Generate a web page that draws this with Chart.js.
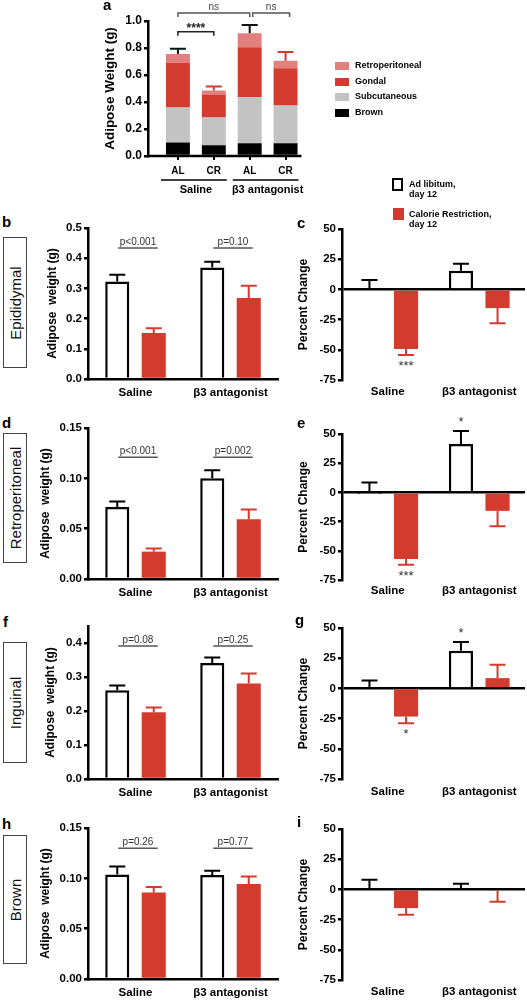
<!DOCTYPE html>
<html>
<head>
<meta charset="utf-8">
<script src="https://cdn.jsdelivr.net/npm/chart.js@4.4.1/dist/chart.umd.min.js"></script>
<style>
  body { margin: 0; background: #fff; }
  #fig { position: relative; width: 527px; height: 1000px; overflow: hidden; font-family: "Liberation Sans", Arial, sans-serif; color: #000; }
  #fig canvas { position: absolute; }
  .letter { position: absolute; font-size: 15px; line-height: 15px; font-weight: bold; }
  .rowbox { position: absolute; left: 3px; width: 24px; border: 1px solid #444; box-sizing: border-box; }
  .rowbox span { position: absolute; left: 50%; top: 50%; transform: translate(-50%, -50%) rotate(-90deg); white-space: nowrap; font-size: 15px; color: #111; }
  .key { position: absolute; font-size: 9px; font-weight: bold; line-height: 9.5px; white-space: nowrap; }
  .sw { position: absolute; box-sizing: border-box; }
</style>
</head>
<body>
<div id="fig"></div>
<script>
const RED = '#d23b2d', PINK = '#e28080', GREY = '#c3c3c3';
const FONT = '"Liberation Sans", Arial, sans-serif';
Chart.defaults.font.family = FONT;
Chart.defaults.color = '#000';

// panel a (stacked totals)
const stackCats = ['AL', 'CR', 'AL', 'CR'];
const groups = ['Saline', 'β3 antagonist'];
const brownA = [0.10, 0.08, 0.095, 0.095];
const subcutaneousA = [0.26, 0.205, 0.34, 0.28];
const gondalA = [0.33, 0.17, 0.37, 0.275];
const retroA = [0.065, 0.03, 0.105, 0.055];
const totalErrA = [0.795, 0.515, 0.97, 0.77];
const bracketFrom = [0, 0, 2];
const bracketTo = [1, 2, 3];
const bracketAt = [0.92, 1.06, 1.06];
const bracketText = ['****', 'ns', 'ns'];

// b-i, values in order [Saline, β3 antagonist]
const epiAL = [0.323, 0.369], epiALerr = [0.345, 0.388];
const epiCR = [0.152, 0.268], epiCRerr = [0.168, 0.309];
const epiP = ['p<0.001', 'p=0.10'];
const epiPct = [0, 15.4], epiPctErr = [7.7, 21.2];
const epiCRPct = [-49.3, -15.5], epiCRPctErr = [-54.3, -28];

const retAL = [0.0714, 0.100], retALerr = [0.077, 0.108];
const retCR = [0.0272, 0.0594], retCRerr = [0.0302, 0.069];
const retP = ['p<0.001', 'p=0.002'];
const retPct = [-0.6, 41.4], retPctErr = [8.5, 52.6];
const retCRPct = [-57, -15.8], retCRPctErr = [-61.9, -29];

const ingAL = [0.261, 0.341], ingALerr = [0.275, 0.357];
const ingCR = [0.196, 0.281], ingCRerr = [0.210, 0.310];
const ingP = ['p=0.08', 'p=0.25'];
const ingPct = [0, 31.2], ingPctErr = [6.6, 38.4];
const ingCRPct = [-23.3, 8.5], ingCRPctErr = [-28.8, 19.6];

const brnAL = [0.1039, 0.1032], brnALerr = [0.1118, 0.1075];
const brnCR = [0.086, 0.0943], brnCRerr = [0.0913, 0.1019];
const brnP = ['p=0.26', 'p=0.77'];
const brnPct = [0, 1], brnPctErr = [8, 4.6];
const brnCRPct = [-15.5, -1.2], brnCRPctErr = [-21, -10.3];

const fig = document.getElementById('fig');

// error bars (+ significance stars) from each dataset's errTo values
const errorBars = {
  id: 'errorBars',
  afterDatasetsDraw(chart) {
    const ctx = chart.ctx;
    const y = chart.scales.y;
    chart.data.datasets.forEach((ds, i) => {
      if (!ds.errTo) return;
      chart.getDatasetMeta(i).data.forEach((bar, j) => {
        const end = y.getPixelForValue(ds.errTo[j]);
        ctx.save();
        ctx.strokeStyle = Array.isArray(ds.errColor) ? ds.errColor[j] : ds.errColor;
        ctx.lineWidth = 2;
        ctx.beginPath();
        ctx.moveTo(bar.x, bar.y);
        ctx.lineTo(bar.x, end);
        ctx.moveTo(bar.x - 8, end);
        ctx.lineTo(bar.x + 8, end);
        ctx.stroke();
        const star = ds.stars && ds.stars[j];
        if (star) {
          const up = ds.errTo[j] >= ds.data[j];
          ctx.fillStyle = '#333';
          ctx.font = '13px ' + FONT;
          ctx.textAlign = 'center';
          ctx.textBaseline = up ? 'alphabetic' : 'top';
          ctx.fillText(star, bar.x, up ? end - 5 : end + 5);
        }
        ctx.restore();
      });
    });
  }
};

// p-value lines over each group
const pLines = {
  id: 'pLines',
  afterDatasetsDraw(chart, args, opts) {
    if (!opts.text) return;
    const ctx = chart.ctx;
    const yy = chart.scales.y.getPixelForValue(opts.at);
    const al = chart.getDatasetMeta(0).data, cr = chart.getDatasetMeta(1).data;
    opts.text.forEach((t, j) => {
      const x1 = al[j].x + 1, x2 = cr[j].x + 4;
      ctx.save();
      ctx.strokeStyle = '#555';
      ctx.lineWidth = 1.5;
      ctx.beginPath();
      ctx.moveTo(x1, yy);
      ctx.lineTo(x2, yy);
      ctx.stroke();
      ctx.fillStyle = '#333';
      ctx.font = '10px ' + FONT;
      ctx.textAlign = 'center';
      ctx.textBaseline = 'alphabetic';
      ctx.fillText(t, (x1 + x2) / 2, yy - 3);
      ctx.restore();
    });
  }
};

function addCanvas(left, top, w, h) {
  const cv = document.createElement('canvas');
  cv.width = w;
  cv.height = h;
  cv.style.left = left + 'px';
  cv.style.top = top + 'px';
  fig.appendChild(cv);
  return cv;
}

function makePanel(o) {
  const cv = addCanvas(o.left, o.top, o.w, o.h);
  const signed = o.min < 0;
  const catPct = signed ? 0.8 : 0.768;
  return new Chart(cv, {
    type: 'bar',
    data: {
      labels: groups,
      datasets: [
        { label: 'Ad libitum, day 12', data: o.al, errTo: o.alErr, errColor: '#000', stars: o.alStars,
          backgroundColor: '#fff', borderColor: '#000', borderWidth: 2.5,
          categoryPercentage: catPct, barPercentage: 0.66 },
        { label: 'Calorie Restriction, day 12', data: o.cr, errTo: o.crErr, errColor: RED, stars: o.crStars,
          backgroundColor: RED, borderWidth: 0,
          categoryPercentage: catPct, barPercentage: 0.66 }
      ]
    },
    options: {
      responsive: false,
      animation: false,
      devicePixelRatio: 1,
      layout: { padding: { top: o.pt, right: 2, bottom: 0, left: 0 } },
      plugins: {
        legend: { display: false },
        tooltip: { enabled: false },
        pLines: { text: o.pText, at: o.pAt }
      },
      scales: {
        x: {
          grid: { display: false, drawTicks: false },
          border: { display: !signed, color: '#000', width: 2.5 },
          ticks: { padding: o.xPad, color: '#000', autoSkip: false, maxRotation: 0,
                   font: { size: 11.5, weight: 'bold' } },
          afterFit: s => { s.height = o.h - o.pt - o.plotH; }
        },
        y: {
          min: o.min, max: o.max,
          ticks: { stepSize: o.step, includeBounds: false, padding: 2, color: '#000',
                   font: { size: 11.5, weight: 'bold' }, callback: v => v.toFixed(o.dec) },
          grid: { drawOnChartArea: signed, color: c => (c.tick && c.tick.value === 0) ? '#000' : 'rgba(0,0,0,0)',
                  tickColor: '#000', tickLength: 4, lineWidth: 2.5 },
          border: { color: '#000', width: 2.5 },
          title: { display: true, text: o.title, color: '#000', font: { size: 12, weight: 'bold' },
                   padding: { top: o.titlePad, bottom: 0 } },
          afterFit: s => { s.width = o.yw; }
        }
      }
    },
    plugins: [errorBars, pLines]
  });
}

// panel a: axis line, group underlines and significance brackets
const stackExtras = {
  id: 'stackExtras',
  afterDraw(chart) {
    const { ctx, chartArea } = chart;
    const { x, x2, y } = chart.scales;
    const y0 = y.getPixelForValue(0);
    ctx.save();
    ctx.strokeStyle = '#000';
    ctx.lineWidth = 2.5;
    ctx.beginPath();
    ctx.moveTo(y.right - 1, y0);
    ctx.lineTo(chartArea.right - 2, y0);
    ctx.stroke();
    const half = (chartArea.right - chartArea.left) / 4;
    ctx.lineWidth = 1.5;
    groups.forEach((g, j) => {
      const cx = x2.getPixelForValue(j);
      ctx.beginPath();
      ctx.moveTo(cx - half + 1, x2.top + 2);
      ctx.lineTo(cx + half - 5, x2.top + 2);
      ctx.stroke();
    });
    bracketText.forEach((t, k) => {
      const xa = x.getPixelForValue(bracketFrom[k]);
      const xb = x.getPixelForValue(bracketTo[k]) + (k === 2 ? 4 : 0);
      const xs = k === 2 ? xa + 3 : xa;
      const yl = y.getPixelForValue(bracketAt[k]);
      const ns = t === 'ns';
      ctx.strokeStyle = ns ? '#555' : '#222';
      ctx.lineWidth = 1.5;
      ctx.beginPath();
      ctx.moveTo(xs, yl + 4);
      ctx.lineTo(xs, yl);
      ctx.lineTo(xb, yl);
      ctx.lineTo(xb, yl + 4);
      ctx.stroke();
      ctx.fillStyle = ns ? '#444' : '#222';
      ctx.font = ns ? '10px ' + FONT : 'bold 12px ' + FONT;
      ctx.textAlign = 'center';
      ctx.textBaseline = 'alphabetic';
      ctx.fillText(t, (xs + xb) / 2, ns ? yl - 3 : yl);
    });
    ctx.restore();
  }
};

const cvA = addCanvas(95, 0, 215, 200);
new Chart(cvA, {
  type: 'bar',
  data: {
    labels: stackCats,
    datasets: [
      { label: 'Brown', data: brownA, backgroundColor: '#000' },
      { label: 'Subcutaneous', data: subcutaneousA, backgroundColor: GREY },
      { label: 'Gondal', data: gondalA, backgroundColor: RED },
      { label: 'Retroperitoneal', data: retroA, backgroundColor: PINK,
        errTo: totalErrA, errColor: ['#111', RED, '#111', RED] }
    ]
  },
  options: {
    responsive: false,
    animation: false,
    devicePixelRatio: 1,
    layout: { padding: { top: 21, right: 6, bottom: 0, left: 0 } },
    datasets: { bar: { categoryPercentage: 1, barPercentage: 0.667 } },
    plugins: { legend: { display: false }, tooltip: { enabled: false } },
    scales: {
      x: {
        stacked: true,
        grid: { display: true, drawOnChartArea: false, drawTicks: true, tickLength: 4, offset: false,
                color: '#000', lineWidth: 2 },
        border: { display: false },
        ticks: { padding: 5, color: '#000', autoSkip: false, maxRotation: 0, font: { size: 10, weight: 'bold' } },
        afterFit: s => { s.height = 22; }
      },
      x2: {
        type: 'category', position: 'bottom', weight: 1, labels: groups,
        grid: { display: false, drawTicks: false },
        border: { display: false },
        ticks: { padding: 5, color: '#000', autoSkip: false, maxRotation: 0, font: { size: 11, weight: 'bold' } },
        afterFit: s => { s.height = 22; }
      },
      y: {
        stacked: true, weight: 1, min: 0, max: 1,
        ticks: { stepSize: 0.2, padding: 2, color: '#000', font: { size: 12, weight: 'bold' },
                 callback: v => v.toFixed(1) },
        grid: { drawOnChartArea: false, tickColor: '#000', tickLength: 4, lineWidth: 2.5 },
        border: { color: '#000', width: 2.5 },
        title: { display: true, text: 'Adipose Weight (g)', color: '#000', font: { size: 13.5, weight: 'bold' },
                 padding: { top: 7, bottom: 0 } },
        afterFit: s => { s.width = 53; }
      },
      y2: {
        type: 'linear', position: 'left', weight: 0,
        grid: { display: false, drawTicks: false },
        border: { display: false },
        ticks: { display: false },
        afterFit: s => { s.width = 12; }
      }
    }
  },
  plugins: [errorBars, stackExtras]
});

// left column: adipose weight
makePanel({ left: 32, top: 210, w: 248, h: 195, pt: 18, plotH: 151, yw: 56, xPad: 7, titlePad: 13,
  min: 0, max: 0.5, step: 0.1, dec: 1, title: 'Adipose  weight (g)',
  al: epiAL, alErr: epiALerr, cr: epiCR, crErr: epiCRerr, pText: epiP, pAt: 0.434 });
makePanel({ left: 32, top: 410, w: 248, h: 195, pt: 18, plotH: 151, yw: 56, xPad: 7, titlePad: 6,
  min: 0, max: 0.15, step: 0.05, dec: 2, title: 'Adipose  weight (g)',
  al: retAL, alErr: retALerr, cr: retCR, crErr: retCRerr, pText: retP, pAt: 0.121 });
makePanel({ left: 32, top: 610, w: 248, h: 195, pt: 16, plotH: 153, yw: 56, xPad: 7, titlePad: 11,
  min: 0, max: 0.45, step: 0.1, dec: 1, title: 'Adipose  weight (g)',
  al: ingAL, alErr: ingALerr, cr: ingCR, crErr: ingCRerr, pText: ingP, pAt: 0.391 });
makePanel({ left: 32, top: 810, w: 248, h: 195, pt: 18, plotH: 151, yw: 56, xPad: 7, titlePad: 6,
  min: 0, max: 0.15, step: 0.05, dec: 2, title: 'Adipose  weight (g)',
  al: brnAL, alErr: brnALerr, cr: brnCR, crErr: brnCRerr, pText: brnP, pAt: 0.130 });

// right column: percent change
makePanel({ left: 285, top: 210, w: 242, h: 195, pt: 19, plotH: 151, yw: 57, xPad: 5, titlePad: 11,
  min: -75, max: 50, step: 25, dec: 0, title: 'Percent Change',
  al: epiPct, alErr: epiPctErr, cr: epiCRPct, crErr: epiCRPctErr, crStars: ['***', ''] });
makePanel({ left: 285, top: 400, w: 242, h: 200, pt: 34, plotH: 146, yw: 57, xPad: 4, titlePad: 11,
  min: -75, max: 50, step: 25, dec: 0, title: 'Percent Change',
  al: retPct, alErr: retPctErr, cr: retCRPct, crErr: retCRPctErr, alStars: ['', '*'], crStars: ['***', ''] });
makePanel({ left: 285, top: 600, w: 242, h: 200, pt: 28, plotH: 151, yw: 57, xPad: 6, titlePad: 11,
  min: -75, max: 50, step: 25, dec: 0, title: 'Percent Change',
  al: ingPct, alErr: ingPctErr, cr: ingCRPct, crErr: ingCRPctErr, alStars: ['', '*'], crStars: ['*', ''] });
makePanel({ left: 285, top: 800, w: 242, h: 200, pt: 29, plotH: 151, yw: 57, xPad: 5, titlePad: 11,
  min: -75, max: 50, step: 25, dec: 0, title: 'Percent Change',
  al: brnPct, alErr: brnPctErr, cr: brnCRPct, crErr: brnCRPctErr });

// html overlays: panel letters, tissue boxes, legends
const letters = [['a', 103, -3], ['b', 2, 214], ['c', 297, 215], ['d', 2, 415], ['e', 297, 415],
                 ['f', 3, 614], ['g', 295, 612], ['h', 2, 816], ['i', 297, 814]];
letters.forEach(([t, l, tp]) => {
  const d = document.createElement('div');
  d.className = 'letter';
  d.style.left = l + 'px';
  d.style.top = tp + 'px';
  d.textContent = t;
  fig.appendChild(d);
});

const tissues = [['Epididymal', 237, 131], ['Retroperitoneal', 433, 130], ['Inguinal', 642, 121], ['Brown', 835, 129]];
tissues.forEach(([t, tp, h]) => {
  const d = document.createElement('div');
  d.className = 'rowbox';
  d.style.top = tp + 'px';
  d.style.height = h + 'px';
  d.innerHTML = '<span>' + t + '</span>';
  fig.appendChild(d);
});

const depotNames = ['Retroperitoneal', 'Gondal', 'Subcutaneous', 'Brown'];
const depotColors = [PINK, RED, GREY, '#000'];
depotNames.forEach((n, k) => {
  const cy = 66 + k * 15.7;
  const s = document.createElement('div');
  s.className = 'sw';
  s.style.cssText = `left:335px;top:${cy - 4}px;width:14px;height:8px;background:${depotColors[k]}`;
  fig.appendChild(s);
  const t = document.createElement('div');
  t.className = 'key';
  t.style.left = '355px';
  t.style.top = (cy - 5) + 'px';
  t.textContent = n;
  fig.appendChild(t);
});

fig.insertAdjacentHTML('beforeend',
  '<div class="sw" style="left:392px;top:178px;width:11px;height:13px;border:2px solid #000"></div>' +
  '<div class="key" style="left:409px;top:180px">Ad libitum,<br>day 12</div>' +
  '<div class="sw" style="left:393px;top:208px;width:11px;height:12px;background:' + RED + '"></div>' +
  '<div class="key" style="left:409px;top:210px">Calorie Restriction,<br>day 12</div>');
</script>
</body>
</html>
